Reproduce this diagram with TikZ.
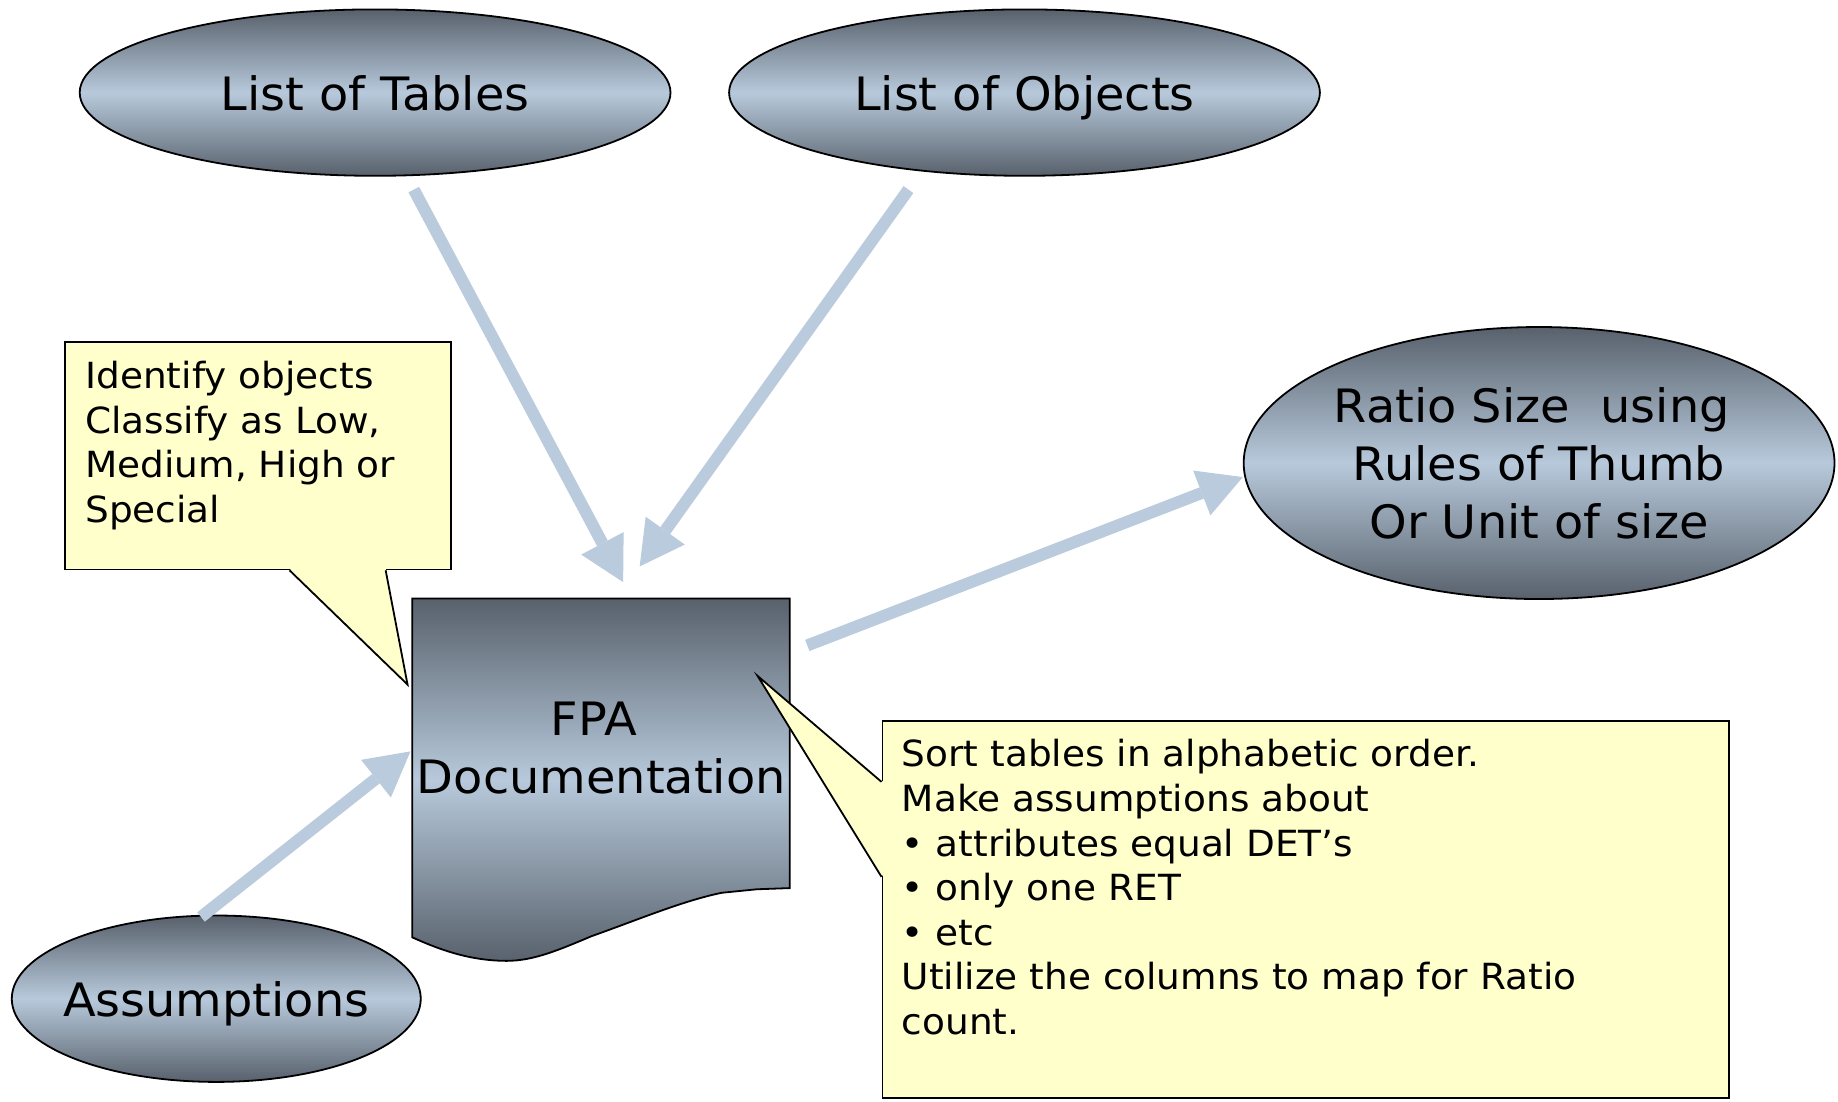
\documentclass[tikz,border=0pt]{standalone}
\usepackage{fontspec}
\setmainfont{DejaVu Sans}[FakeStretch=1.04]
\usetikzlibrary{shapes.geometric,arrows.meta,calc,backgrounds}

\definecolor{shadeDark}{HTML}{58616C}
\definecolor{shadeLight}{HTML}{B7C9DB}
\definecolor{noteFill}{HTML}{FFFFCC}
\definecolor{flowBlue}{HTML}{B9CBDC}

\tikzset{
  bigtext/.style={font=\fontsize{23}{29}\selectfont},
  smalltext/.style={font=\fontsize{18}{22.3}\selectfont},
  shaded/.style={draw=black, line width=0.9pt,
    top color=shadeDark, bottom color=shadeDark, middle color=shadeLight},
  bubble/.style={shaded, ellipse, inner sep=0pt, bigtext, align=center},
  oneline/.style={text depth=0pt},
  notebox/.style={rectangle, draw=black, line width=0.9pt, fill=noteFill,
    inner sep=0pt, anchor=north west},
  notetext/.style={smalltext, align=left, inner sep=0pt, anchor=north west},
  flow/.style={draw=flowBlue, line width=6pt,
    -{Triangle[length=22pt,width=24pt,line width=0pt]}},
}

\begin{document}
\begin{tikzpicture}[x=0.5861pt, y=-0.5861pt]
\useasboundingbox (0,0) rectangle (1568,940);

% source and result ellipses
\node[bubble, oneline, minimum width=295.4pt, minimum height=83.2pt] (tables)  at (320,79)  {List of Tables};
\node[bubble, oneline, minimum width=295.4pt, minimum height=83.2pt] (objects) at (874,79)  {List of Objects};
\node[bubble, minimum width=295.4pt, minimum height=136pt]  (ratio)   at (1313,395)
  {Ratio Size\ \ using\hspace*{0.32em}\\Rules of Thumb\\Or Unit of size};
\node[bubble, oneline, minimum width=204.5pt, minimum height=83.2pt] (assump)  at (184.5,852)
  {\makebox[0pt]{Assumptions}};

% the document in the middle
\node[bigtext, align=center, inner sep=0pt, minimum width=188.7pt, minimum height=148.9pt] (fpa)
  at (513,638) {FPA\hspace*{0.33em}\\Documentation};
\begin{scope}[on background layer, shift={(fpa.north west)}]
  \path[shaded] (0,0) -- (322,0) -- (322,247) -- (294,248) -- (264,251)
    .. controls (230,258) and (190,275) .. (153,288)
    .. controls (120,302) and (100,310) .. (76,309)
    .. controls (45,308) and (20,298) .. (0,289) -- cycle;
\end{scope}

% flow arrows
\draw[flow] ($(tables.south)+(33,11)$) -- ($(fpa.north)+(18.6,-14)$);
\draw[flow] ($(objects.south)+(-99,11)$) -- ($(fpa.north)+(32.7,-27.4)$);
\draw[flow] ($(fpa.north east)+(14.4,40)$) -- ($(ratio.west)+(0,12)$);
\draw[flow] ($(assump.north)+(-13,2)$) -- ($(fpa.west)+(-1.5,3)$);

% callout on the left
\node[notebox, minimum width=192.8pt, minimum height=113.7pt] (note1) at (55,291) {};
\coordinate (tip1) at ($(fpa.west)+(-4,-54)$);
\fill[noteFill] ($(note1.south west)+(192,-1.5)$) -- (tip1) -- ($(note1.south west)+(274,-1.5)$) -- cycle;
\draw[line width=0.9pt] ($(note1.south west)+(192,0)$) -- (tip1) -- ($(note1.south west)+(274,0)$);
\node[notetext] (note1text) at (72.5,308)
  {Identify objects\\Classify as Low,\\Medium, High or\\Special};

% callout on the right
\node[notebox, minimum width=423.2pt, minimum height=188.7pt] (note2) at (752,614) {};
\coordinate (tip2) at ($(fpa.north east)+(-28,66)$);
\fill[noteFill] ($(note2.north west)+(1.5,53)$) -- (tip2) -- ($(note2.north west)+(1.5,134)$) -- cycle;
\draw[line width=0.9pt] ($(note2.north west)+(0,53)$) -- (tip2) -- ($(note2.north west)+(0,134)$);
\node[notetext] (note2text) at (769,630.5)
  {Sort tables in alphabetic order.\\Make assumptions about\\• attributes equal DET’s\\• only one RET\\• etc\\Utilize the columns to map for Ratio\\count.};

\end{tikzpicture}
\end{document}
